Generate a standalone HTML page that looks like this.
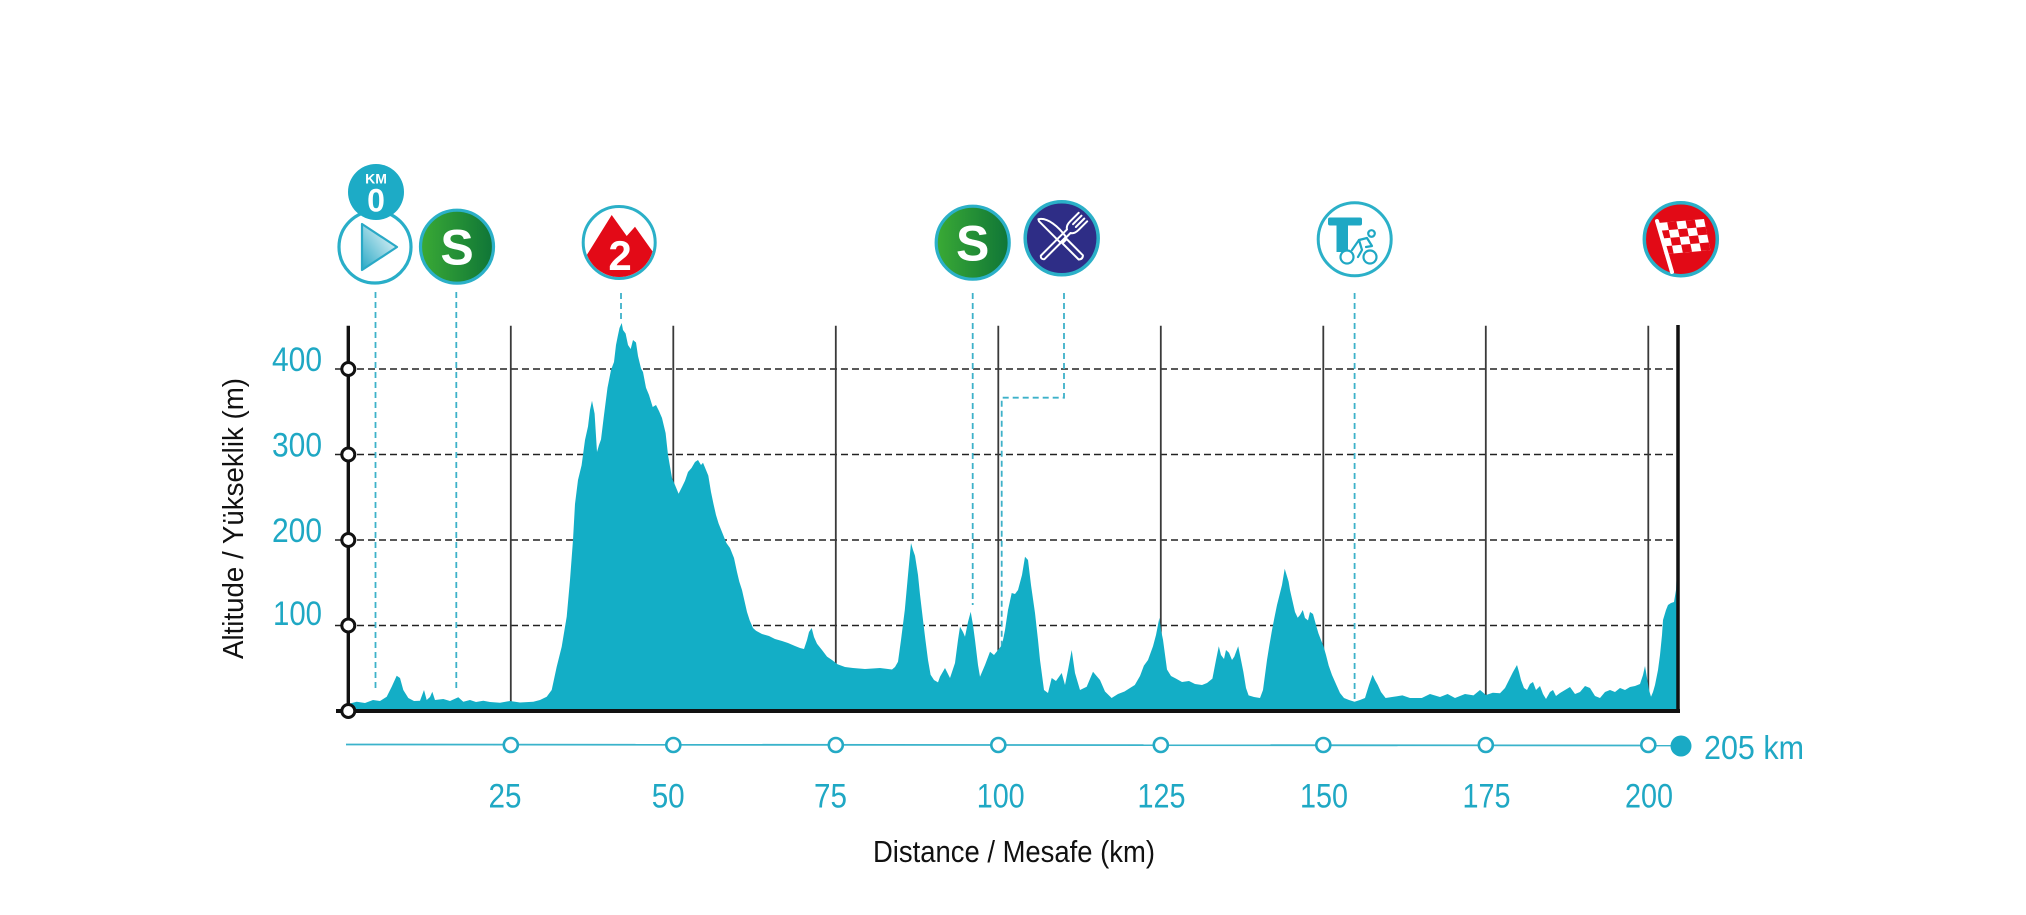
<!DOCTYPE html>
<html><head><meta charset="utf-8"><style>
html,body{margin:0;padding:0;background:#fff;}
svg{display:block;}
text{font-family:"Liberation Sans",sans-serif;}
</style></head><body>
<svg width="2026" height="915" viewBox="0 0 2026 915" xmlns="http://www.w3.org/2000/svg">
<defs>
<linearGradient id="gs" x1="0" y1="0" x2="1" y2="0"><stop offset="0" stop-color="#3aaa35"/><stop offset="1" stop-color="#0f7537"/></linearGradient>
<linearGradient id="gp" x1="0" y1="1" x2="1" y2="0"><stop offset="0" stop-color="#2aa9c6"/><stop offset="1" stop-color="#ffffff"/></linearGradient>
<clipPath id="cm"><circle cx="619.2" cy="242.5" r="34.5"/></clipPath>
</defs>
<rect width="2026" height="915" fill="#fff"/>

<!-- horizontal dashed grid -->
<g stroke="#222" stroke-width="1.6" stroke-dasharray="7 4">
<line x1="335" y1="369" x2="1676" y2="369"/>
<line x1="335" y1="454.5" x2="1676" y2="454.5"/>
<line x1="335" y1="540" x2="1676" y2="540"/>
<line x1="335" y1="625.5" x2="1676" y2="625.5"/>
</g>
<!-- vertical grid -->
<g stroke="#3a3a3a" stroke-width="1.8">
<line x1="510.8" y1="325.7" x2="510.8" y2="711"/>
<line x1="673.3" y1="325.7" x2="673.3" y2="711"/>
<line x1="835.8" y1="325.7" x2="835.8" y2="711"/>
<line x1="998.3" y1="325.7" x2="998.3" y2="711"/>
<line x1="1160.8" y1="325.7" x2="1160.8" y2="711"/>
<line x1="1323.3" y1="325.7" x2="1323.3" y2="711"/>
<line x1="1485.8" y1="325.7" x2="1485.8" y2="711"/>
<line x1="1648.3" y1="325.7" x2="1648.3" y2="711"/>
</g>
<!-- marker dashed lines -->
<g stroke="#3db1c9" stroke-width="1.8" stroke-dasharray="6 4" fill="none">
<line x1="375.5" y1="292" x2="375.5" y2="691"/>
<line x1="456.3" y1="292" x2="456.3" y2="691"/>
<line x1="621" y1="293" x2="621" y2="323"/>
<line x1="972.7" y1="293" x2="972.7" y2="605"/>
<polyline points="1064,293 1064,397.7 1001.7,397.7 1001.7,711"/>
<line x1="1354.6" y1="293" x2="1354.6" y2="711"/>
</g>

<!-- profile -->
<path fill="#13aec6" d="M348,711 L348,704 356.7,701.7 365,703 373,700 380,701 386.7,696.7 391.7,686.7 396.7,675.7 400,678 403.3,690 408.3,698 414,701 420,700.7 424,690 426.7,700 430,697 432.3,691.7 435,700 443.3,699 450,701 458.3,697.3 463.3,701.7 470,700 476,702 483.3,700.7 490,702 500,702.7 510,701 520,702.5 533.3,701.7 540,700 546.7,696.7 551.7,690 556.7,666.7 561.7,646.7 566.7,616.7 570,580 573,540 575,504 578,480 581.6,465.3 585,440 588,426.5 590,410 592,400.7 594.6,413.6 597,452 599,445 601,439.5 604,415 607.5,387.8 611,370 614,362 616,345 617.8,336 619.5,328 621.7,323 623,330 625.6,333.5 628,345 630.7,349 633,340 636,342.5 638,356 641,368.4 643,372 646,387.8 649,395 652.7,407 656,405 659,411 662,418 665.6,433 668,455 672,478 675,485 678.6,493.7 682,487 685,480.8 688,472 691.5,468 695,462 698,460 701,465 703,462.7 706,470 708.3,475.6 711,492 713.5,504 716,515 718.6,523.5 722,532 726.4,543 730,548 734,558 737,572 739.3,581.6 742,590 744.5,601 747,612 749.7,620.4 753,628 756,630.7 762,634 769,636 775,639 782,641 788,643 795,646 800,648 804,649 807,640 809,632 811.7,628 814,637 817,643.7 822,650 827,656.6 832,660 837.5,664.3 845,667 853,668 865,669 880,668 892,669.5 895,667 898,661.8 901,640 904.8,610 908,575 911,543 913,550 915,555.8 918,575 920,594.6 923,620 925.4,639.8 928,660 930.6,674.7 934,680 938,682.4 940,676.7 945,668 950,678 955,663 958,640 960,626.7 963,632 965,636.7 968,622 970.7,611.7 973,625 975,640 978,665 980,676.7 985,665 990,651.7 994,655 998,650 1002,645 1005,630 1008,610 1011.7,593 1015,594 1018,590 1022,575 1025,556.7 1028,560 1031,585 1035,613 1038,640 1040,660 1044,690 1048,693 1051.7,678 1056,681 1061.7,673 1065,685 1068,670 1071.7,650 1075,673 1080,690 1086.7,686.7 1093,671.7 1100,680 1105,691.5 1111.6,698 1118,694 1124.5,691.5 1130,688 1134.8,685 1140,676 1143.9,665.6 1148,660 1153,646.3 1156,635 1159.4,617.8 1161,630 1163,639.8 1167,669.5 1171,676 1176,678.6 1182,682 1189,681 1195,684 1202,685 1207,683 1212.4,678.6 1216,660 1218.8,646.3 1221,655 1224,659 1226,650 1229,652.7 1232,660 1234.3,656.6 1236,652 1238.2,646.3 1241,660 1243.4,672 1246,688 1248.6,695.4 1254,697 1260,698 1263,690 1265.4,672 1267,660 1269.2,646.3 1272,630 1274.4,617.8 1277,605 1279.6,594.6 1282,585 1284.7,568.7 1286,573 1288.6,581.6 1290,590 1292.5,601 1295,612 1297.7,617.8 1300,615 1302.8,610 1305,618 1308,620.4 1310,612 1313,614 1316,625 1318.4,633.3 1321,640 1323.5,646.3 1326,655 1328.7,665.6 1332,675 1336.4,685 1340,693 1344,698 1349,700 1354.5,701.8 1360,700 1365,698 1369,685 1372.6,674.7 1375,680 1377.8,685 1381,692 1385.6,698 1392,697 1402.4,695.4 1410,698 1421.8,698 1430,694 1440,697 1447.6,694 1455,698 1465,694 1473.5,695.4 1480,690 1486,695 1492.8,692.8 1500,693.3 1505,688 1509,680 1513,672 1517,665 1519,672 1521,680 1524,688 1527,690 1530,684 1533,682 1536,690 1540,686 1543,694 1546,699 1550,692 1553,690 1556,696 1560,693 1565,690 1570,687 1575,694 1580,692 1585,686 1590,688 1595,696 1600,698 1605,692 1610,690 1615,692 1620,688 1625,690 1630,687 1635,686 1640,684 1643,675 1645,666 1647,678 1649,690 1651,696.7 1653,692 1655,685 1658,670 1660,655 1662,635 1663,620 1666,610 1668,605 1671,603 1674,602 1676,590 1677,570 1678,560 1678,711 Z"/>

<!-- axes -->
<line x1="348.3" y1="325.7" x2="348.3" y2="711" stroke="#111" stroke-width="3.4"/>
<line x1="1678" y1="325" x2="1678" y2="713" stroke="#111" stroke-width="3.5"/>
<line x1="336" y1="711" x2="1680" y2="711" stroke="#111" stroke-width="4"/>
<g fill="#fff" stroke="#111" stroke-width="3">
<circle cx="348.3" cy="369" r="6.5"/>
<circle cx="348.3" cy="454.5" r="6.5"/>
<circle cx="348.3" cy="540" r="6.5"/>
<circle cx="348.3" cy="625.5" r="6.5"/>
<circle cx="348.3" cy="711" r="6.5"/>
</g>

<!-- y labels -->
<g fill="#1fa8c4" font-size="34" text-anchor="end">
<text x="322" y="371" textLength="50" lengthAdjust="spacingAndGlyphs">400</text>
<text x="322" y="456.5" textLength="50" lengthAdjust="spacingAndGlyphs">300</text>
<text x="322" y="542" textLength="50" lengthAdjust="spacingAndGlyphs">200</text>
<text x="322" y="625" textLength="49" lengthAdjust="spacingAndGlyphs">100</text>
</g>
<text x="243" y="659" transform="rotate(-90 243 659)" font-size="29" fill="#111" textLength="281" lengthAdjust="spacingAndGlyphs">Altitude / Yükseklik (m)</text>

<!-- distance line -->
<line x1="346" y1="744.5" x2="1681" y2="745.5" stroke="#3ab3cb" stroke-width="1.8"/>
<g fill="#fff" stroke="#24aac5" stroke-width="2.6">
<circle cx="510.8" cy="745" r="7"/>
<circle cx="673.3" cy="745" r="7"/>
<circle cx="835.8" cy="745" r="7"/>
<circle cx="998.3" cy="745" r="7"/>
<circle cx="1160.8" cy="745" r="7"/>
<circle cx="1323.3" cy="745" r="7"/>
<circle cx="1485.8" cy="745" r="7"/>
<circle cx="1648.3" cy="745" r="7"/>
</g>
<circle cx="1681" cy="746" r="10.5" fill="#1aaac5"/>
<text x="1704" y="759" font-size="33" fill="#1fa8c4" textLength="100" lengthAdjust="spacingAndGlyphs">205 km</text>

<g fill="#1fa8c4" font-size="34">
<text x="488.5" y="807.5" textLength="33" lengthAdjust="spacingAndGlyphs">25</text>
<text x="651.7" y="807.5" textLength="33" lengthAdjust="spacingAndGlyphs">50</text>
<text x="814" y="807.5" textLength="33" lengthAdjust="spacingAndGlyphs">75</text>
<text x="976.7" y="807.5" textLength="48" lengthAdjust="spacingAndGlyphs">100</text>
<text x="1137.5" y="807.5" textLength="48" lengthAdjust="spacingAndGlyphs">125</text>
<text x="1300" y="807.5" textLength="48" lengthAdjust="spacingAndGlyphs">150</text>
<text x="1462.5" y="807.5" textLength="48" lengthAdjust="spacingAndGlyphs">175</text>
<text x="1625" y="807.5" textLength="48" lengthAdjust="spacingAndGlyphs">200</text>
</g>
<text x="873" y="862" font-size="31" fill="#111" textLength="282" lengthAdjust="spacingAndGlyphs">Distance / Mesafe  (km)</text>

<!-- ICONS -->
<!-- start -->
<circle cx="375" cy="247" r="36" fill="#fff" stroke="#29aec8" stroke-width="3.2"/>
<polygon points="362,224 397,247 362,270" fill="url(#gp)" stroke="#2aa9c6" stroke-width="2.2" stroke-linejoin="round"/>
<circle cx="376" cy="192" r="28" fill="#1dabc6"/>
<text x="376" y="183.3" font-size="14" font-weight="bold" fill="#fff" text-anchor="middle">KM</text>
<text x="376" y="211.7" font-size="32" font-weight="bold" fill="#fff" text-anchor="middle">0</text>

<!-- S1 -->
<circle cx="457" cy="246.7" r="36.5" fill="url(#gs)" stroke="#2bb0c8" stroke-width="3.2"/>
<text x="457" y="264.5" font-size="50" font-weight="bold" fill="#fff" text-anchor="middle">S</text>

<!-- mountain -->
<circle cx="619.2" cy="242.5" r="36" fill="#fff" stroke="#2bb0c8" stroke-width="3"/>
<polygon clip-path="url(#cm)" points="580,266 611.7,215 626.7,236 635,226.7 660,262 660,290 580,290" fill="#e30a17"/>
<text x="620" y="270" font-size="42" font-weight="bold" fill="#fff" text-anchor="middle">2</text>

<!-- S2 -->
<circle cx="972.7" cy="242.7" r="36.5" fill="url(#gs)" stroke="#2bb0c8" stroke-width="3.2"/>
<text x="972.7" y="260.5" font-size="50" font-weight="bold" fill="#fff" text-anchor="middle">S</text>

<!-- food -->
<circle cx="1061.7" cy="238.3" r="36.5" fill="#2e2d86" stroke="#2bb0c8" stroke-width="3.5"/>
<g fill="none" stroke="#fff" stroke-width="2" stroke-linejoin="round" stroke-linecap="round">
<g transform="translate(1061.7 238.3) rotate(-45)">
<path d="M-3,-30 C5,-25 6,-10 4,2 L-4,2 L-4,-28 Z"/>
<path d="M-3,4 L3,4 L3,27 Q0,30 -3,27 Z"/>
</g>
<g transform="translate(1061.7 238.3) rotate(45)">
<path d="M-6,-30 L-6,-18 Q-6,-12 -2.5,-10 L-2.5,27 Q0,30 2.5,27 L2.5,-10 Q6,-12 6,-18 L6,-30"/>
<line x1="-2" y1="-30" x2="-2" y2="-18"/>
<line x1="2" y1="-30" x2="2" y2="-18"/>
</g>
</g>

<!-- T -->
<circle cx="1354.7" cy="239.3" r="36.5" fill="#fff" stroke="#2bb0c8" stroke-width="3"/>
<rect x="1328" y="217.5" width="34" height="8" rx="2" fill="#1fa8c4"/>
<rect x="1336.5" y="224" width="11.5" height="28" fill="#1fa8c4"/>
<g fill="#fff" stroke="#1fa8c4" stroke-width="2.2" stroke-linecap="round" stroke-linejoin="round">
<circle cx="1347" cy="257" r="6.5"/>
<circle cx="1370" cy="257" r="6.5"/>
<circle cx="1371.5" cy="233.5" r="3.3" fill="none"/>
<polyline fill="none" points="1352,250 1359,240 1367,238 1372,246 1366,247"/>
<polyline fill="none" points="1359,240 1362,250 1358,257"/>
</g>

<!-- finish -->
<circle cx="1680.8" cy="239.2" r="36.5" fill="#e20a16" stroke="#2bb0c8" stroke-width="3.5"/>
<g transform="matrix(9.2,-0.8,1.6,7.8,1658,223)">
<rect x="0" y="0" width="5" height="4" fill="#fff"/>
<g fill="#e20a16">
<rect x="1" y="0" width="1" height="1"/><rect x="3" y="0" width="1" height="1"/>
<rect x="0" y="1" width="1" height="1"/><rect x="2" y="1" width="1" height="1"/><rect x="4" y="1" width="1" height="1"/>
<rect x="1" y="2" width="1" height="1"/><rect x="3" y="2" width="1" height="1"/>
<rect x="0" y="3" width="1" height="1"/><rect x="2" y="3" width="1" height="1"/><rect x="4" y="3" width="1" height="1"/>
</g>
</g>
<line x1="1657" y1="221" x2="1672" y2="272" stroke="#fff" stroke-width="4" stroke-linecap="round"/>
</svg>
</body></html>
